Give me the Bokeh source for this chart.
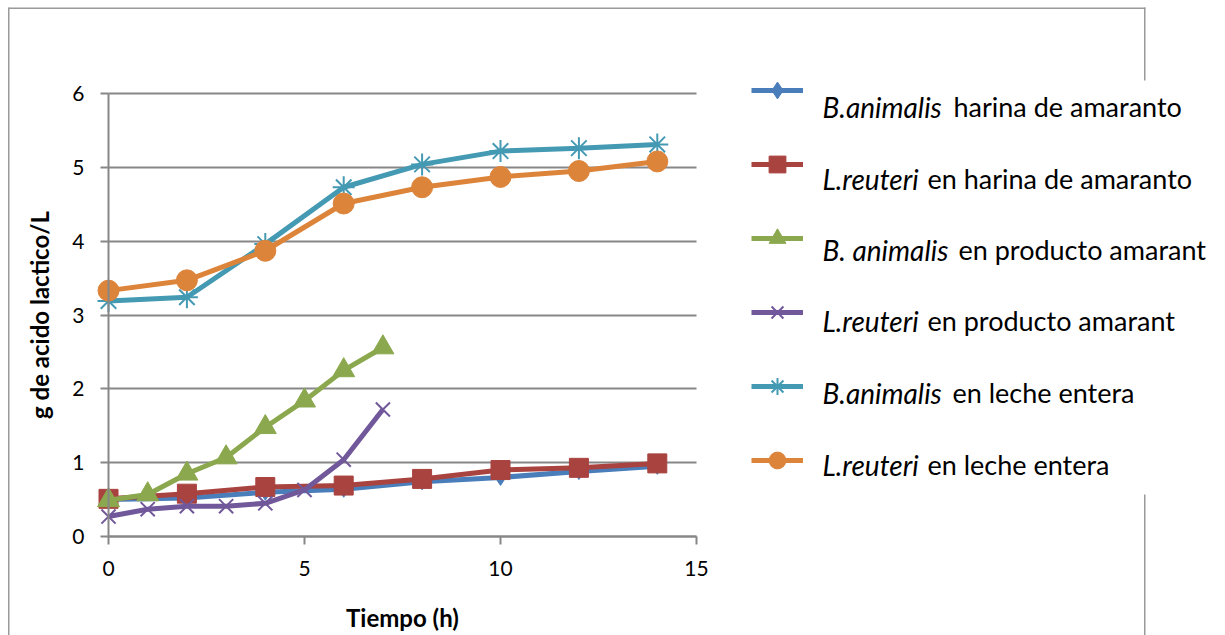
from bokeh.plotting import figure
from bokeh.models import Range1d, FixedTicker, Legend, LegendItem, Label, BoxAnnotation
from bokeh.embed import file_html
from bokeh.resources import INLINE

# ---------------- data ----------------
hours_long = [0, 2, 4, 6, 8, 10, 12, 14]
hours_short = [0, 1, 2, 3, 4, 5, 6, 7]

ba_harina = [0.50, 0.52, 0.60, 0.64, 0.74, 0.80, 0.88, 0.95]
lr_harina = [0.51, 0.58, 0.67, 0.69, 0.78, 0.90, 0.93, 0.99]
ba_producto = [0.49, 0.57, 0.85, 1.07, 1.48, 1.84, 2.25, 2.56]
lr_producto = [0.27, 0.37, 0.41, 0.41, 0.45, 0.63, 1.04, 1.72]
ba_leche = [3.19, 3.24, 3.96, 4.73, 5.04, 5.22, 5.26, 5.31]
lr_leche = [3.33, 3.47, 3.87, 4.51, 4.73, 4.87, 4.95, 5.08]

species = ["B.animalis", "L.reuteri", "B. animalis", "L.reuteri", "B.animalis", "L.reuteri"]
media = ["harina de amaranto", "en harina de amaranto", "en producto amarant",
         "en producto amarant", "en leche entera", "en leche entera"]

x_ticks = [0, 5, 10, 15]
y_ticks = [0, 1, 2, 3, 4, 5, 6]

# ---------------- geometry helpers (pixel -> data) ----------------
FL, FR, FT, FB = 108, 696, 93, 536      # pixel positions of x=0, x=15, y=6, y=0
W, H = 1225, 635
XMAX, YMAX = 15, 6


def px2x(px):
    return (px - FL) / (FR - FL) * XMAX


def py2y(py):
    return (FB - py) / (FB - FT) * YMAX


FONT = "Lato"
GRID = "#878787"

p = figure(width=W, height=H,
           x_range=Range1d(px2x(0), px2x(W)), y_range=Range1d(py2y(H), py2y(0)),
           output_backend="svg", toolbar_location=None,
           min_border_left=0, min_border_right=0, min_border_top=0, min_border_bottom=0)
p.outline_line_color = None
p.background_fill_color = "white"
p.border_fill_color = "white"

# horizontal gridlines limited to the data area
p.xgrid.visible = False
p.ygrid.ticker = FixedTicker(ticks=y_ticks)
p.ygrid.grid_line_color = GRID
p.ygrid.grid_line_width = 2
try:
    p.ygrid.cross_bounds = (0, XMAX)
    p.ygrid.bounds = (0, YMAX)
except Exception:
    p.ygrid.visible = False
    p.segment(x0=[0] * len(y_ticks), y0=y_ticks, x1=[XMAX] * len(y_ticks), y1=y_ticks,
              line_color=GRID, line_width=2)

for ax in (p.xaxis[0], p.yaxis[0]):
    ax.fixed_location = 0
    ax.axis_line_color = GRID
    ax.axis_line_width = 2
    ax.major_tick_line_color = GRID
    ax.major_tick_line_width = 2
    ax.major_tick_out = 8
    ax.major_tick_in = 0
    ax.minor_tick_line_color = None
    ax.major_label_text_font = FONT
    ax.major_label_text_font_size = "21px"
    ax.major_label_text_color = "black"
    ax.axis_label_text_font = FONT
    ax.axis_label_text_font_style = "bold"
    ax.axis_label_text_font_size = "24px"
    ax.axis_label_text_color = "black"

p.xaxis.bounds = (0, XMAX)
p.yaxis.bounds = (0, YMAX)
p.xaxis.ticker = FixedTicker(ticks=x_ticks)
p.yaxis.ticker = FixedTicker(ticks=y_ticks)
p.xaxis.major_label_standoff = 16
p.yaxis.major_label_standoff = 16
p.xaxis.axis_label = "Tiempo (h)"
p.yaxis.axis_label = "g de acido lactico/L"
p.xaxis.axis_label_standoff = 24
p.yaxis.axis_label_standoff = 15

# ---------------- chart frame border ----------------
border_col = "#9a9a9a"
for (l, r, t, b) in [(8, 1145, 7, 8.5), (7.5, 9, 7, 700), (1143.5, 1145, 7, 80), (1143.5, 1145, 494, 700)]:
    p.add_layout(BoxAnnotation(left=px2x(l), right=px2x(r), top=py2y(t), bottom=py2y(b),
                               fill_color=border_col, fill_alpha=1, line_color=None, level="underlay"))

series = [
    (hours_long, ba_harina, "#4A7EBB", "diamond", 16, 1),
    (hours_long, lr_harina, "#A9433F", "square", 19, 1),
    (hours_short, ba_producto, "#8BA84E", "triangle", 22, 1),
    (hours_short, lr_producto, "#71589A", "x", 20, 2),
    (hours_long, ba_leche, "#4499B3", "asterisk", 22, 2),
    (hours_long, lr_leche, "#DD843B", "circle", 21, 1),
]

items = []
for xs, ys, col, mk, sz, lw in series:
    lr = p.line(xs, ys, line_color=col, line_width=5)
    sr = p.scatter(xs, ys, marker=mk, size=sz, fill_color=col, line_color=col, line_width=lw)
    items.append(LegendItem(label=" ", renderers=[lr, sr]))

# ---------------- legend (glyph samples) ----------------
legend = Legend(items=items, location=(751, H - 481), glyph_width=52, glyph_height=42,
                label_height=42, label_width=1, spacing=32, padding=10, margin=0,
                label_text_font_size="1px", border_line_color=None, background_fill_alpha=0)
p.add_layout(legend)

# ---------------- legend texts (italic species + normal medium) ----------------
baselines = [106, 178, 249, 320, 392, 464]
split_x = [953, 927, 958, 927, 952, 927]
for sp_name, med, by, sx in zip(species, media, baselines, split_x):
    p.add_layout(Label(x=px2x(822), y=py2y(by), text=sp_name, text_font=FONT,
                       text_font_style="italic", text_font_size="28px", text_color="black",
                       text_baseline="alphabetic", text_align="left"))
    p.add_layout(Label(x=px2x(sx), y=py2y(by), text=med, text_font=FONT,
                       text_font_size="27px", text_color="black",
                       text_baseline="alphabetic", text_align="left"))

open("out.html", "w").write(file_html(p, INLINE))
